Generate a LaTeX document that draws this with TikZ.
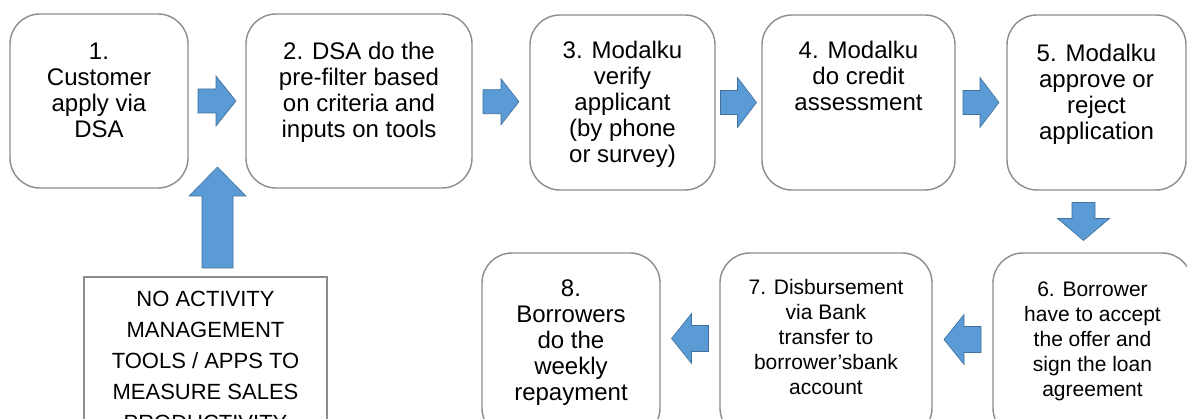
\documentclass[tikz,border=0pt]{standalone}
\usepackage{fontspec}
\setmainfont{Liberation Sans}
\usetikzlibrary{calc}
\definecolor{boxline}{HTML}{8C8C8C}
\definecolor{arrfill}{HTML}{5B9BD5}
\definecolor{arrline}{HTML}{41719C}
\tikzset{
  stepbox/.style={draw=boxline, line width=1.4pt, rounded corners=30pt, fill=white, inner sep=0pt},
  notebox/.style={draw=boxline, line width=1.4pt, fill=white, inner sep=0pt},
  bigtxt/.style={align=center, inner sep=0pt, anchor=north, font=\fontsize{24}{26}\selectfont},
  smalltxt/.style={align=center, inner sep=0pt, anchor=north, font=\fontsize{21}{25}\selectfont},
  notetxt/.style={align=center, inner sep=0pt, anchor=north, font=\fontsize{22}{31}\selectfont},
  arrowfill/.style={fill=arrfill, draw=arrline, line width=0.6pt, line join=miter},
  pics/barrow/.style n args={4}{code={
    \filldraw[arrowfill] ({-#1/2},{-#2}) -- ({#1/2-#4},{-#2}) -- ({#1/2-#4},{-#3}) -- ({#1/2},0)
      -- ({#1/2-#4},{#3}) -- ({#1/2-#4},{#2}) -- ({-#1/2},{#2}) -- cycle;
  }}
}
\begin{document}
\begin{tikzpicture}[x=1pt,y=-1pt]
\useasboundingbox (0,0) rectangle (1187,419);
\clip (0,0) rectangle (1187,419);
\fill[white] (0,0) rectangle (1187,419);

% top row boxes
\node[stepbox, minimum width=178pt, minimum height=174pt] (b1) at (99,101) {};
\node[stepbox, minimum width=226pt, minimum height=174pt] (b2) at (359,101) {};
\node[stepbox, minimum width=185pt, minimum height=175pt] (b3) at (622.5,102.5) {};
\node[stepbox, minimum width=193pt, minimum height=175pt] (b4) at (858.5,102.5) {};
\node[stepbox, minimum width=179pt, minimum height=175pt] (b5) at (1096.5,102.5) {};

% bottom row boxes
\node[stepbox, minimum width=199pt, minimum height=185pt] (b6) at (1092.5,345.5) {};
\node[stepbox, minimum width=212pt, minimum height=185pt] (b7) at (826,345.5) {};
\node[stepbox, minimum width=178pt, minimum height=185pt] (b8) at (571,345.5) {};

% note box
\node[notebox, minimum width=243pt, minimum height=180pt] (note) at (205.5,367) {};

% texts
\node[bigtxt] (t1) at ([yshift=-29pt]b1.north) {1.\\Customer\\apply via\\DSA};
\node[bigtxt] (t2) at ([yshift=-29pt]b2.north) {2. DSA do the\\pre-filter based\\on criteria and\\inputs on tools};
\node[bigtxt] (t3) at ([yshift=-27pt]b3.north) {3. Modalku\\verify\\applicant\\(by phone\\or survey)};
\node[bigtxt] (t4) at ([yshift=-27pt]b4.north) {4. Modalku\\do credit\\assessment};
\node[bigtxt] (t5) at ([yshift=-30pt]b5.north) {5. Modalku\\approve or\\reject\\application};
\node[smalltxt] (t6) at ([yshift=-29pt]b6.north) {6. Borrower\\have to accept\\the offer and\\sign the loan\\agreement};
\node[smalltxt] (t7) at ([yshift=-27pt]b7.north) {7. Disbursement\\via Bank\\transfer to\\borrower’sbank\\account};
\node[bigtxt] (t8) at ([yshift=-27pt]b8.north) {8.\\Borrowers\\do the\\weekly\\repayment};
\node[notetxt] (tn) at ([yshift=-15pt]note.north) {NO ACTIVITY\\MANAGEMENT\\TOOLS / APPS TO\\MEASURE SALES\\PRODUCTIVITY};

% block arrows
\pic at ($(b1.east)!0.5!(b2.west)$) {barrow={38}{12}{25}{20}};
\pic at ($(b2.east)!0.5!(b3.west)$) {barrow={36}{12}{23}{18}};
\pic at ($(b3.east)!0.5!(b4.west)$) {barrow={36}{12}{25}{19}};
\pic at ($(b4.east)!0.5!(b5.west)$) {barrow={36}{12}{25}{19}};
\pic[rotate=-90] at ($(b5.south)!0.5!(b6.north) + (-11,0)$) {barrow={38}{11.5}{26}{22}};
\pic[rotate=180] at ($(b6.west)!0.5!(b7.east) + (0,-6)$) {barrow={37}{13}{25}{20}};
\pic[rotate=180] at ($(b7.west)!0.5!(b8.east) + (0,-7)$) {barrow={37}{13}{25}{20}};
\pic[rotate=90] at (217.5,217.5) {barrow={101}{15.5}{28.5}{29}};
\end{tikzpicture}
\end{document}
